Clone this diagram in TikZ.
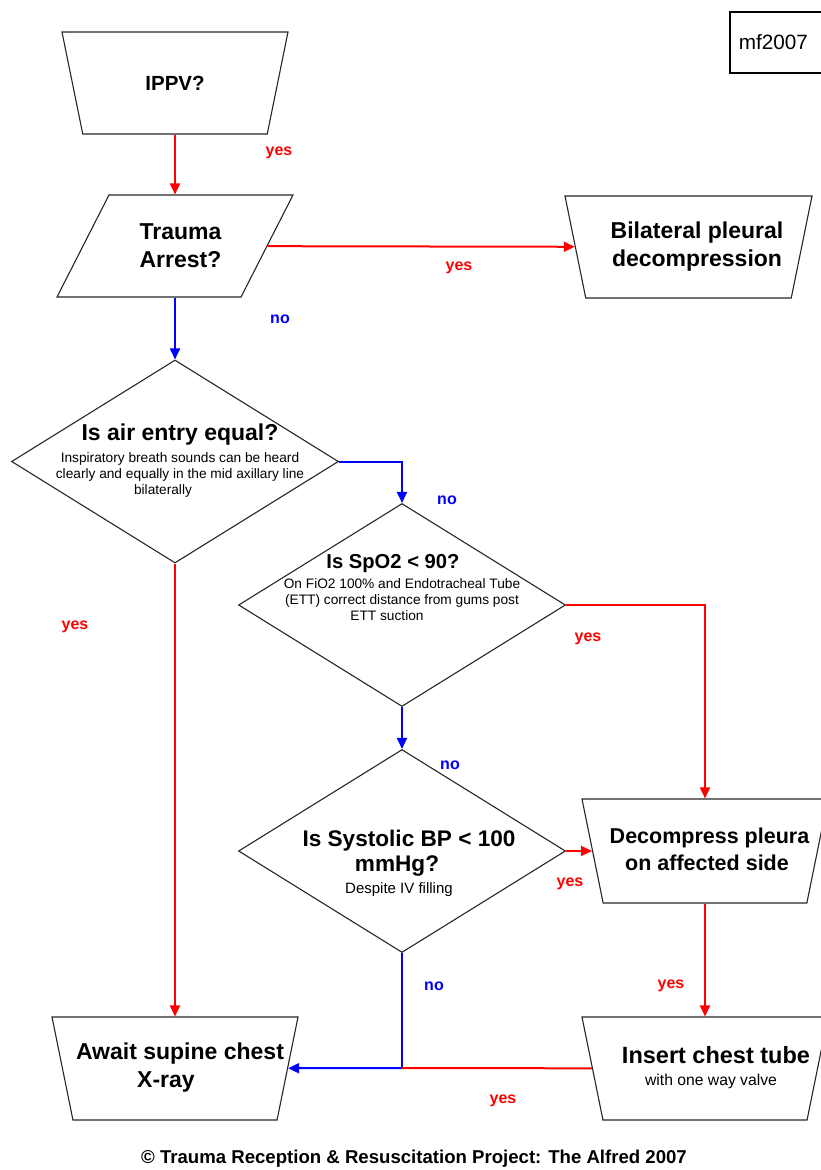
\documentclass[tikz,border=0pt]{standalone}
\usepackage{fontspec}
\setmainfont{Liberation Sans}
\usetikzlibrary{arrows.meta}
\usetikzlibrary{shapes.geometric}
\definecolor{yescolour}{RGB}{255,0,0}
\definecolor{nocolour}{RGB}{0,0,255}
\newcommand\linkwidth{2pt}
\newcommand\borderwidth{1.1pt}
\newcommand\headfont{\bfseries\fontsize{23}{28}\selectfont}
\newcommand\notefont{\mdseries\fontsize{13.7}{15.7}\selectfont}
\newcommand\answerfont{\bfseries\fontsize{16}{19}\selectfont}
\tikzset{>={Triangle[length=11pt,width=10pt]}}
\tikzstyle{yesline}   = [draw=yescolour, line width=\linkwidth]
\tikzstyle{noline}    = [draw=nocolour, line width=\linkwidth]
\tikzstyle{yeslabel}  = [text=yescolour, font=\answerfont, inner sep=0pt]
\tikzstyle{nolabel}   = [text=nocolour, font=\answerfont, inner sep=0pt]
\tikzstyle{stepbox}   =
 [trapezium, draw=black!85, line width=\borderwidth, trapezium stretches body=true,
  trapezium left angle=101.5, trapezium right angle=101.5,
  minimum width=246pt, inner xsep=0pt, inner ysep=51.5pt, text height=0pt, text depth=0pt]
\tikzstyle{steptext}  = [align=center, inner sep=0pt, font=\headfont]
\tikzstyle{question}  = [diamond, draw=black!85, line width=\borderwidth,
  minimum width=327pt, minimum height=203pt, inner sep=0pt]

\begin{document}
\begin{tikzpicture}[x=1pt, y=-1pt]
  \useasboundingbox (0,0) rectangle (821,1170);
  % boxes
  \draw (175,83) node[stepbox, minimum width=226pt, inner ysep=51pt] (ippv) {};
  \draw (175,246) node[stepbox, minimum width=236pt, inner ysep=51pt,
    trapezium left angle=63, trapezium right angle=117] (arrest) {};
  \draw (688.5,247) node[stepbox, minimum width=247pt, inner ysep=51pt] (bilateral) {};
  \draw (705,851) node[stepbox, inner ysep=52pt] (decompress) {};
  \draw (705,1068.5) node[stepbox] (chesttube) {};
  \draw (175,1068.5) node[stepbox] (awaitxray) {};
  \draw (729,11) node[anchor=north west, draw, line width=1.5pt, minimum height=61pt,
    text width=83pt, inner xsep=9pt, font=\fontsize{20.7}{24}\selectfont] (stamp) {mf2007};
  % box texts
  \draw (175,83) node[steptext, font=\bfseries\fontsize{20.5}{24}\selectfont] (ippvtext) {IPPV?};
  \draw (180.5,246) node[steptext] (arresttext) {Trauma\\Arrest?};
  \draw (697,247) node[steptext] (bilateraltext) {Bilateral pleural\\decompression};
  \draw (707,849) node[steptext, font=\bfseries\fontsize{21.5}{27}\selectfont] (decompresstext)
    {\hspace*{5pt}Decompress pleura\\on affected side};
  \draw (711,1068) node[steptext, font=\bfseries\fontsize{23.5}{28}\selectfont] (chesttubetext)
    {\hspace*{10pt}Insert chest tube\\[-6pt]{\mdseries\fontsize{15.7}{18}\selectfont with one way valve}};
  \draw (175,1068) node[steptext] (awaitxraytext)
    {\hspace*{10pt}Await supine chest\\X-ray\hspace{18pt}\null};
  % questions
  \draw (175,461.5) node[question] (airentry) {};
  \draw (402,605) node[question] (spo2) {};
  \draw (402,851) node[question] (systolic) {};
  \draw (180,461) node[steptext] (airentrytext)
    {Is air entry equal?\\[-6pt]
     {\notefont Inspiratory breath sounds can be heard}\\[-12pt]
     {\notefont clearly and equally in the mid axillary line}\\[-12pt]
     {\notefont bilaterally\hspace{34pt}\null}};
  \draw (402,588) node[steptext, font=\bfseries\fontsize{20.2}{28}\selectfont] (spo2text)
    {Is SpO2 < 90?\hspace{18pt}\null\\[-8pt]
     {\notefont On FiO2 100\% and Endotracheal Tube}\\[-12pt]
     {\notefont (ETT) correct distance from gums post}\\[-12pt]
     {\notefont ETT suction\hspace{30pt}\null}};
  \draw (402,863) node[steptext, font=\bfseries\fontsize{22.6}{25}\selectfont] (systolictext)
    {\hspace*{14pt}Is Systolic BP < 100\\
     mmHg?\hspace{10pt}\null\\[-3pt]
     {\fontsize{15}{18}\selectfont\mdseries Despite IV filling\hspace{6pt}\null}};
  % answers
  \draw (279,153) node[yeslabel] (yesippv) {yes};
  \draw (459,268) node[yeslabel] (yesarrest) {yes};
  \draw (280,319) node[nolabel] (noarrest) {no};
  \draw (75,627) node[yeslabel] (yesair) {yes};
  \draw (447,500) node[nolabel] (noair) {no};
  \draw (588,639) node[yeslabel] (yesspo2) {yes};
  \draw (450,765) node[nolabel] (nospo2) {no};
  \draw (570,884) node[yeslabel] (yessystolic) {yes};
  \draw (434,986) node[nolabel] (nosystolic) {no};
  \draw (671,986) node[yeslabel] (yesdecompress) {yes};
  \draw (503,1101) node[yeslabel] (yeschesttube) {yes};
  \draw (414,1159) node[font=\bfseries\fontsize{18.6}{22}\selectfont] (credit)
    {© Trauma Reception \& Resuscitation Project: The Alfred 2007};
  % links
  \coordinate (meet) at (402,1068);
  \draw[yesline, ->] (ippv.south) -- (ippv.south |- arrest.north);
  \draw[yesline, ->] (arrest) -- (bilateral);
  \draw[noline, ->] (airentry.north |- arrest.south) -- (airentry.north);
  \draw[noline, ->] (airentry.east) -| (spo2.north);
  \draw[yesline, ->] (spo2.east) -| (decompress.north);
  \draw[noline, ->] (spo2.south) -- (systolic.north);
  \draw[yesline, ->] (systolic) -- (decompress);
  \draw[yesline, ->] (decompress) -- (chesttube);
  \draw[yesline, ->] (airentry.south) -- (awaitxray.north);
  \draw[noline] (systolic.south) -- (meet);
  \draw[yesline] (chesttube) -- (meet);
  \draw[noline, ->] (meet) -- (awaitxray);
\end{tikzpicture}
\end{document}
